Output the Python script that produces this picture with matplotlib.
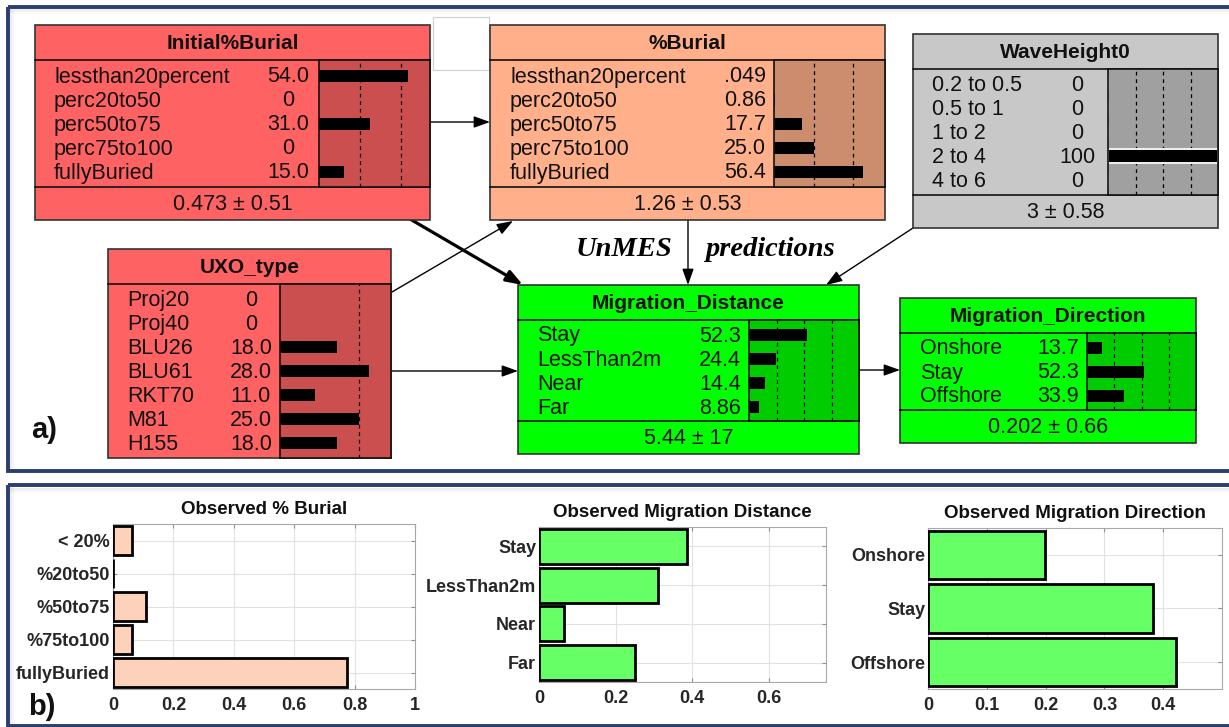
import numpy as np
import matplotlib
matplotlib.use('Agg')
import matplotlib.pyplot as plt
from matplotlib.patches import Rectangle, FancyArrowPatch

W, H = 1229, 727

plt.rcParams['font.family'] = ['Liberation Sans', 'DejaVu Sans']

# Bayes-net beliefs (%) for each node state
init_burial_states = ['lessthan20percent', 'perc20to50', 'perc50to75', 'perc75to100', 'fullyBuried']
init_burial_belief = [54.0, 0, 31.0, 0, 15.0]
init_burial_stat = '0.473 \u00b1 0.51'

burial_states = ['lessthan20percent', 'perc20to50', 'perc50to75', 'perc75to100', 'fullyBuried']
burial_belief = [0.049, 0.86, 17.7, 25.0, 56.4]
burial_stat = '1.26 \u00b1 0.53'

wave_states = ['0.2 to 0.5', '0.5 to 1', '1 to 2', '2 to 4', '4 to 6']
wave_belief = [0, 0, 0, 100, 0]
wave_stat = '3 \u00b1 0.58'

uxo_states = ['Proj20', 'Proj40', 'BLU26', 'BLU61', 'RKT70', 'M81', 'H155']
uxo_belief = [0, 0, 18.0, 28.0, 11.0, 25.0, 18.0]

dist_states = ['Stay', 'LessThan2m', 'Near', 'Far']
dist_belief = [52.3, 24.4, 14.4, 8.86]
dist_stat = '5.44 \u00b1 17'

dir_states = ['Onshore', 'Stay', 'Offshore']
dir_belief = [13.7, 52.3, 33.9]
dir_stat = '0.202 \u00b1 0.66'

# observed frequencies
obs_burial_labels = ['< 20%', '%20to50', '%50to75', '%75to100', 'fullyBuried']
obs_burial = [0.063, 0.0, 0.109, 0.063, 0.775]
obs_dist_labels = ['Stay', 'LessThan2m', 'Near', 'Far']
obs_dist = [0.386, 0.310, 0.065, 0.250]
obs_dir_labels = ['Onshore', 'Stay', 'Offshore']
obs_dir = [0.199, 0.383, 0.421]

NAVY = '#2A3F6D'
BODY_FS = 15.5
TITLE_FS = 15


def fig_rect(x0, y0, x1, y1):
    # pixel box (top-left origin) -> figure fraction
    return [x0 / W, 1 - y1 / H, (x1 - x0) / W, (y1 - y0) / H]


def fmt_belief(v):
    if v == 0:
        return '0'
    if v >= 100:
        return '100'
    if v < 0.1:
        return f'{v:.3f}'[1:]
    if v < 10:
        return f'{v:.2f}'
    return f'{v:.1f}'


def draw_node(fig, ax, box, title, states, belief, stat, bar_x0, xmax, dashes,
              label_x, value_x, fill, shade, title_h=35, foot_h=33, finding=False):
    x0, y0, x1, y1 = box
    body_top = y0 + title_h
    body_bot = y1 - foot_h if stat else y1
    ax.add_patch(Rectangle((x0, y0), x1 - x0, y1 - y0, facecolor=fill,
                           edgecolor='#333333', lw=1.2, zorder=3))
    ax.plot([x0, x1], [body_top, body_top], color='#111111', lw=1.2, zorder=4)
    if stat:
        ax.plot([x0, x1], [body_bot, body_bot], color='#111111', lw=1.2, zorder=4)
        ax.text((x0 + x1) / 2, (body_bot + y1) / 2 + 1, stat, ha='center', va='center',
                fontsize=BODY_FS, color='#111111', zorder=5)
    ax.text((x0 + x1) / 2, (y0 + body_top) / 2 + 1, title, ha='center', va='center',
            fontsize=TITLE_FS, fontweight='bold', color='#111111', zorder=5)

    n = len(states)
    row_h = 24
    pad = (body_bot - body_top - n * row_h) / 2
    rows = body_top + pad + row_h * (np.arange(n) + 0.5)
    for y, s, v in zip(rows, states, belief):
        ax.text(label_x, y + 1.5, s, ha='left', va='center', fontsize=BODY_FS,
                color='#111111', zorder=5)
        ax.text(value_x, y + 1.5, fmt_belief(v), ha='center', va='center',
                fontsize=BODY_FS, color='#111111', zorder=5)

    bax = fig.add_axes(fig_rect(bar_x0, body_top, x1, body_bot))
    bax.set_facecolor(shade)
    bax.barh(np.arange(n), belief, height=0.55 if finding else 0.5, color='black',
             edgecolor='#f2f2f2' if finding else 'none', lw=1.4, zorder=2)
    for d in dashes:
        bax.axvline(d, color='black', lw=0.9, ls=(0, (3, 3)), zorder=1)
    bax.set_xlim(0, xmax)
    bax.set_ylim(n - 0.5 + pad / row_h, -0.5 - pad / row_h)
    bax.set_xticks([])
    bax.set_yticks([])
    for sp in bax.spines.values():
        sp.set_color('#111111')
        sp.set_linewidth(1.2)


def arrow(ax, p0, p1, lw=1.0):
    ax.add_patch(FancyArrowPatch(p0, p1, arrowstyle='-|>,head_length=0.7,head_width=0.25',
                                 mutation_scale=14, color='black', lw=lw,
                                 shrinkA=0, shrinkB=0, zorder=2))


def obs_chart(fig, box, labels, vals, title, color, xmax, ticks):
    a = fig.add_axes(fig_rect(*box))
    y = np.arange(len(vals))
    a.barh(y, vals, height=0.9, color=color, edgecolor='black', lw=2, zorder=3)
    a.set_ylim(len(vals) - 0.5, -0.5)
    a.set_xlim(0, xmax)
    a.set_xticks(ticks)
    a.set_xticklabels([f'{t:g}' for t in ticks])
    a.set_yticks(y)
    a.set_yticklabels(labels)
    a.grid(True, color='#e2e2e2', lw=0.8)
    a.set_axisbelow(True)
    a.tick_params(direction='in', length=3, top=True, right=True, color='#909090',
                  labelsize=13, labelcolor='#262626')
    a.tick_params(axis='x', pad=6)
    a.tick_params(axis='y', pad=2)
    for lab in a.get_xticklabels() + a.get_yticklabels():
        lab.set_fontweight('bold')
    for sp in a.spines.values():
        sp.set_color('#a8a8a8')
        sp.set_linewidth(0.8)
    a.set_title(title, fontsize=13.5, fontweight='bold', color='#111111', pad=7)
    return a


fig = plt.figure(figsize=(W / 100, H / 100), dpi=100)
ax = fig.add_axes([0, 0, 1, 1])
ax.set_xlim(0, W)
ax.set_ylim(H, 0)
ax.axis('off')

# panel frames with a soft inner shadow
for top, bot in [(6.5, 471), (485, 726)]:
    for i in range(1, 6):
        a_ = 0.07 * (6 - i) / 5
        ax.plot([9, W], [top + 1.5 + i, top + 1.5 + i], color='black', alpha=a_, lw=0.75, zorder=0)
        ax.plot([9 + i, 9 + i], [top + 2, bot - 2], color='black', alpha=a_, lw=0.75, zorder=0)
    ax.add_patch(Rectangle((7.5, top), 1300, bot - top, fill=False,
                           edgecolor=NAVY, lw=2.8, zorder=1))

# stray empty node outline
ax.add_patch(Rectangle((433, 17), 56, 53, facecolor='white', edgecolor='#cfcfcf', lw=0.8, zorder=1))

# network links
arrow(ax, (430, 122), (490, 122))
arrow(ax, (410, 219), (523, 285), lw=2.3)
arrow(ax, (392, 292), (513, 221))
arrow(ax, (391, 371), (518, 371))
arrow(ax, (688, 220), (688, 285))
arrow(ax, (913, 228), (826, 285))
arrow(ax, (859, 370), (900, 370))

RED, RED_D = '#FF6262', '#CC4F4F'
PEACH, PEACH_D = '#FFB08A', '#CC8C6E'
GREY, GREY_D = '#C8C8C8', '#A0A0A0'
GREEN, GREEN_D = '#00FF00', '#00CC00'

draw_node(fig, ax, (35, 25, 430, 220), 'Initial%Burial', init_burial_states, init_burial_belief,
          init_burial_stat, 319, 67.5, [25, 50], 54, 288, RED, RED_D)
draw_node(fig, ax, (490, 25, 885, 220), '%Burial', burial_states, burial_belief,
          burial_stat, 774, 70, [25, 50], 510, 745, PEACH, PEACH_D)
draw_node(fig, ax, (913, 34, 1218, 228), 'WaveHeight0', wave_states, wave_belief,
          wave_stat, 1108, 100, [25, 50, 75], 932, 1077, GREY, GREY_D, finding=True)
draw_node(fig, ax, (108, 249, 391, 458), 'UXO_type', uxo_states, uxo_belief,
          None, 280, 35, [25], 127, 251, RED, RED_D)
draw_node(fig, ax, (518, 285, 859, 454), 'Migration_Distance', dist_states, dist_belief,
          dist_stat, 749, 100, [25, 50, 75], 537, 720, GREEN, GREEN_D)
draw_node(fig, ax, (900, 298, 1196, 443), 'Migration_Direction', dir_states, dir_belief,
          dir_stat, 1087, 100, [25, 50, 75], 920, 1058, GREEN, GREEN_D)

ax.text(624, 250, 'UnMES', ha='center', va='center', fontsize=20.5, fontweight='bold',
        style='italic', family='Liberation Serif', zorder=5)
ax.text(770, 250, 'predictions', ha='center', va='center', fontsize=20.5, fontweight='bold',
        style='italic', family='Liberation Serif', zorder=5)

ax.text(44, 430, 'a)', ha='center', va='center', fontsize=21, fontweight='bold', color='#111111')
ax.text(42, 707, 'b)', ha='center', va='center', fontsize=21, fontweight='bold', color='#111111')

# observed distributions
obs_chart(fig, (113, 524, 415, 689), obs_burial_labels, obs_burial, 'Observed % Burial',
          '#FDD1BA', 1, [0, 0.2, 0.4, 0.6, 0.8, 1])
obs_chart(fig, (539, 527, 826, 682), obs_dist_labels, obs_dist, 'Observed Migration Distance',
          '#66FF66', 0.75, [0, 0.2, 0.4, 0.6])
obs_chart(fig, (928, 528, 1222, 689), obs_dir_labels, obs_dir, 'Observed Migration Direction',
          '#66FF66', 0.5, [0, 0.1, 0.2, 0.3, 0.4])

fig.savefig('out.png', dpi=100)
